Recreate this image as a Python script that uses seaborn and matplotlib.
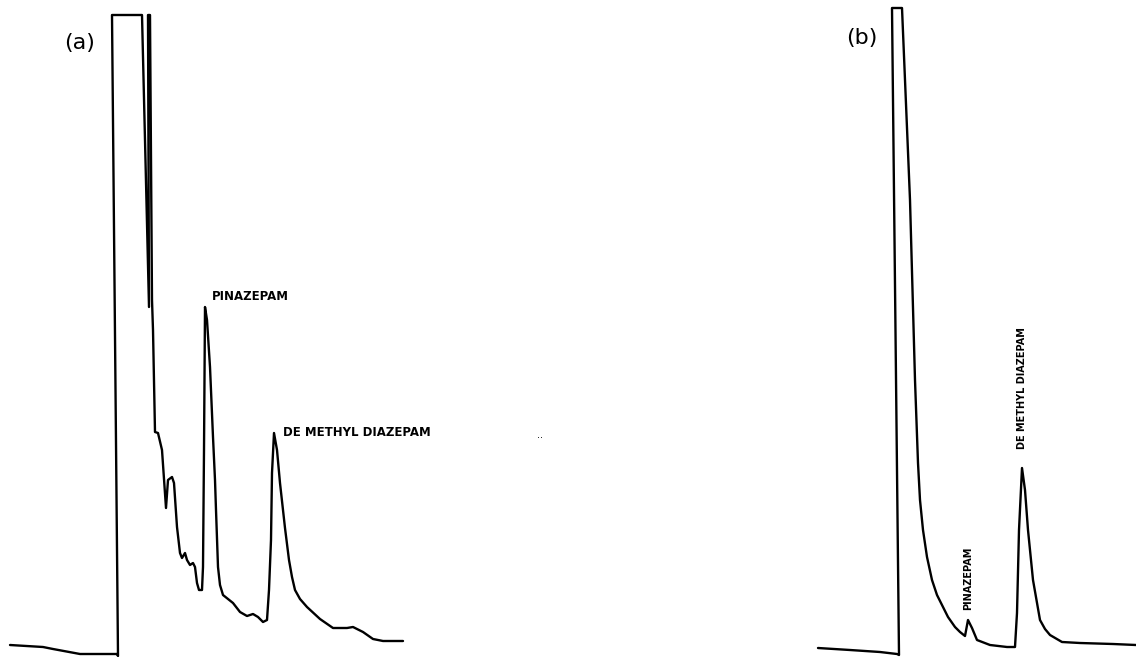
import matplotlib
matplotlib.use("Agg")
import matplotlib.pyplot as plt
import seaborn as sns
import pandas as pd

# ---- Chromatogram (a): chart position along recorder paper vs detector response ----
a_time = [10, 43, 53, 80, 117, 118, 112, 142, 149, 148,
          150, 152, 153, 155, 158, 162, 166, 168, 172, 174,
          177, 180, 182, 185, 187, 190, 193, 195, 197, 199,
          202, 203, 204, 205, 207, 210, 213, 215, 216, 218,
          220, 223, 233, 240, 247, 253, 258, 263, 267, 269, 271,
          272, 274, 277, 280, 285, 289, 292, 295, 300, 307, 320, 333,
          347, 353, 363, 373, 383, 403]
a_response = [12, 10, 8, 3, 3, 1, 642, 642, 350, 642,
              642, 357, 327, 225, 224, 207, 149, 177, 180, 174,
              130, 104, 99, 104, 97, 92, 94, 90, 74, 67,
              67, 90, 207, 350, 337, 290, 220, 177, 147, 90,
              72, 62, 54, 45, 41, 43, 40, 35, 37, 67, 117,
              184, 224, 207, 174, 129, 97, 80, 67, 58, 50, 38, 29,
              29, 30, 25, 18, 16, 16]

# ---- Chromatogram (b) ----
b_time = [818, 850, 880, 897, 899, 892, 902, 910, 915, 918,
          920, 923, 927, 932, 937, 943, 948, 955, 960, 965,
          968, 972, 977, 990, 1007,
          1015, 1017, 1019, 1022, 1025, 1028, 1033, 1040, 1045, 1050, 1062,
          1080, 1113, 1136]
b_response = [9, 7, 5, 3, 2, 649, 649, 457, 277, 194,
              157, 127, 100, 77, 62, 50, 40, 30, 25, 21,
              37, 29, 17, 12, 10,
              10, 44, 127, 189, 167, 127, 77, 37, 28, 22, 15,
              14, 13, 12]

panel_labels = ["(a)", "(b)"]
a_peak_labels = ["PINAZEPAM", "DE METHYL DIAZEPAM"]
b_peak_labels = ["PINAZEPAM", "DE METHYL DIAZEPAM"]

sns.set_theme(style="white")
plt.rcParams["font.family"] = ["DejaVu Sans"]

fig = plt.figure(figsize=(11.36, 6.57), dpi=100)
ax = fig.add_axes([0, 0, 1, 1])

df_a = pd.DataFrame({"time": a_time, "response": a_response})
df_b = pd.DataFrame({"time": b_time, "response": b_response})

sns.lineplot(data=df_a, x="time", y="response", sort=False, estimator=None,
             color="black", linewidth=1.7, ax=ax)
sns.lineplot(data=df_b, x="time", y="response", sort=False, estimator=None,
             color="black", linewidth=1.7, ax=ax)

ax.set_xlim(0, 1136)
ax.set_ylim(0, 657)
ax.axis("off")

# panel labels
ax.text(80, 614, panel_labels[0], fontsize=16, ha="center", va="center", color="black")
ax.text(862, 619, panel_labels[1], fontsize=16, ha="center", va="center", color="black")

# peak labels panel (a)
ax.text(212, 360, a_peak_labels[0], fontsize=8.5, fontweight="bold",
        ha="left", va="center", color="black")
ax.text(283, 225, a_peak_labels[1], fontsize=8.5, fontweight="bold",
        ha="left", va="center", color="black")

# peak labels panel (b) (vertical)
ax.text(968, 79, b_peak_labels[0], fontsize=7, fontweight="bold", rotation=90,
        ha="center", va="center", color="black")
ax.text(1022, 269, b_peak_labels[1], fontsize=7, fontweight="bold", rotation=90,
        ha="center", va="center", color="black")

# stray marks on the original print
ax.text(540, 222, "..", fontsize=7, ha="center", va="center", color="black")

fig.savefig("out.png", dpi=100, facecolor="white")
